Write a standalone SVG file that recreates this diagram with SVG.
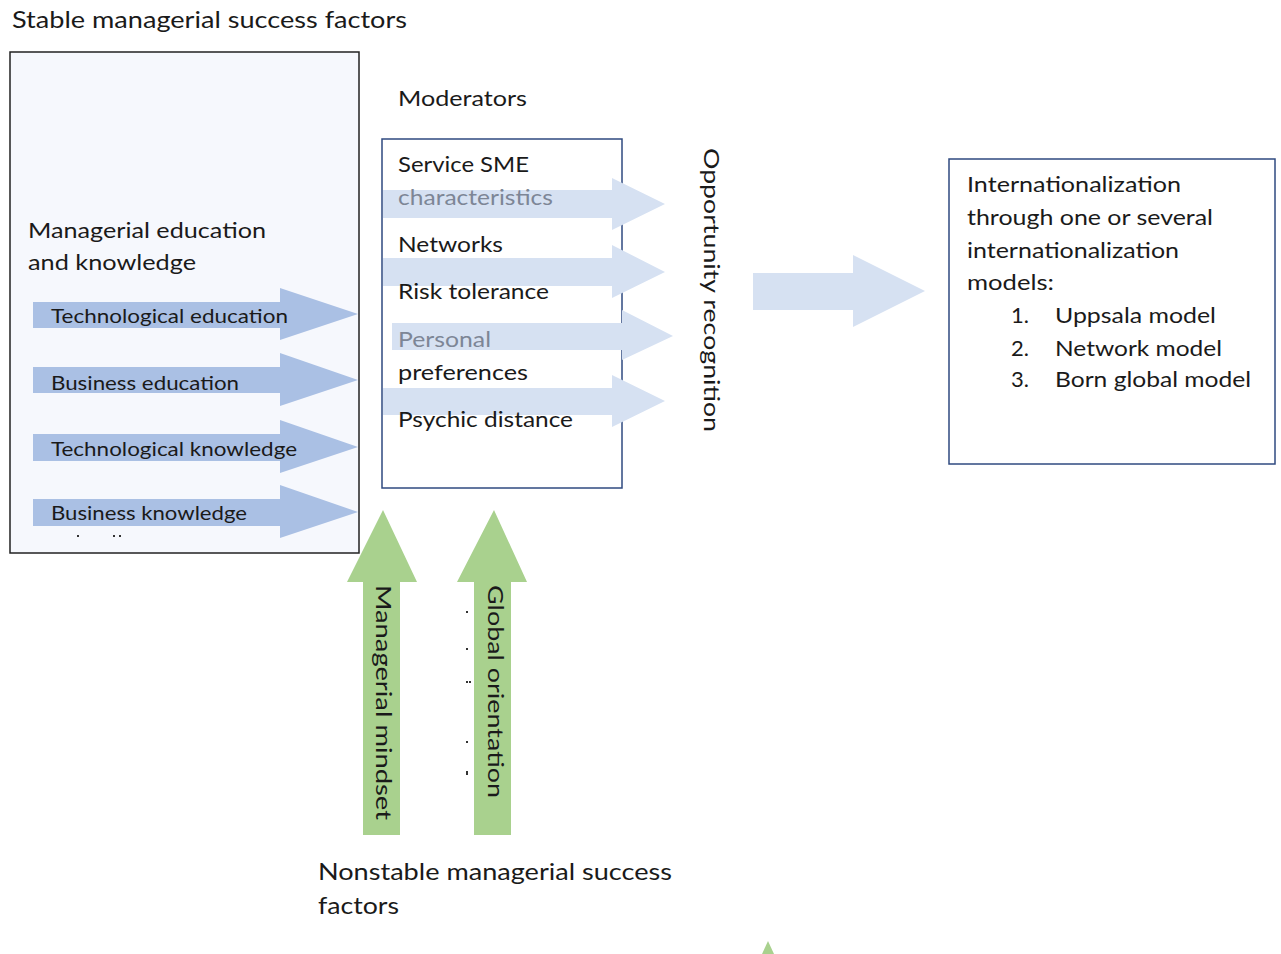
<svg xmlns="http://www.w3.org/2000/svg" width="1281" height="954" viewBox="0 0 1281 954">
  <style>
    text { font-family: Lato, "Liberation Sans", sans-serif; fill: #1a1a1a; }
    .t24 { font-size: 23px; }
    .t22 { font-size: 22px; }
    .t20 { font-size: 20px; }
    .dim { fill: #7d8696; }
    .box-dark { fill: #f6f8fd; stroke: #222; stroke-width: 1.5; }
    .box-blue { fill: #ffffff; stroke: #2f4a80; stroke-width: 1.5; }
    .arrow-mid { fill: #aac0e4; }
    .arrow-light { fill: #d6e1f2; }
    .arrow-green { fill: #a9d18e; }
    .mark { fill: #333; }
  </style>

  <!-- Stable success factors -->
  <g id="stable-factors">
    <text class="t24" x="12" y="28" textLength="395" lengthAdjust="spacingAndGlyphs">Stable managerial success factors</text>
    <rect class="box-dark" x="10" y="52" width="349" height="501"/>
    <text class="t22" x="28" y="238" textLength="238" lengthAdjust="spacingAndGlyphs">Managerial education</text>
    <text class="t22" x="28" y="270" textLength="168" lengthAdjust="spacingAndGlyphs">and knowledge</text>
  </g>

  <!-- Education / knowledge arrows -->
  <g id="education-arrows">
    <polygon class="arrow-mid" points="33,302 280,302 280,288 358,314 280,340 280,328 33,328"/>
    <polygon class="arrow-mid" points="33,367 280,367 280,353 358,380 280,406 280,393 33,393"/>
    <polygon class="arrow-mid" points="33,434 280,434 280,420 358,447 280,473 280,461 33,461"/>
    <polygon class="arrow-mid" points="33,499 280,499 280,485 358,512 280,538 280,526 33,526"/>
    <text class="t20" x="51" y="323" textLength="237" lengthAdjust="spacingAndGlyphs">Technological education</text>
    <text class="t20" x="51" y="390" textLength="188" lengthAdjust="spacingAndGlyphs">Business education</text>
    <text class="t20" x="51" y="456" textLength="246" lengthAdjust="spacingAndGlyphs">Technological knowledge</text>
    <text class="t20" x="51" y="520" textLength="196" lengthAdjust="spacingAndGlyphs">Business knowledge</text>
    <rect class="mark" x="77" y="535" width="2" height="2"/>
    <rect class="mark" x="113" y="535" width="2" height="2"/>
    <rect class="mark" x="119" y="535" width="2" height="2"/>
  </g>

  <!-- Moderators -->
  <g id="moderators">
    <text class="t22" x="398" y="106" textLength="129" lengthAdjust="spacingAndGlyphs">Moderators</text>
    <rect class="box-blue" x="382" y="139" width="240" height="349"/>
  </g>

  <!-- Moderator arrows -->
  <g id="moderator-arrows">
    <polygon class="arrow-light" points="383,190 612,190 612,178 665,204 612,230 612,218 383,218"/>
    <polygon class="arrow-light" points="383,258 612,258 612,245 665,272 612,298 612,286 383,286"/>
    <polygon class="arrow-light" points="392,323 622,323 622,310 673,336 622,360 622,350 392,350"/>
    <polygon class="arrow-light" points="383,388 612,388 612,375 665,401 612,427 612,415 383,415"/>
  </g>

  <g id="moderator-labels">
    <text class="t22" x="398" y="172" textLength="131" lengthAdjust="spacingAndGlyphs">Service SME</text>
    <text class="t22 dim" x="398" y="205" textLength="155" lengthAdjust="spacingAndGlyphs">characteristics</text>
    <text class="t22" x="398" y="252" textLength="105" lengthAdjust="spacingAndGlyphs">Networks</text>
    <text class="t22" x="398" y="299" textLength="151" lengthAdjust="spacingAndGlyphs">Risk tolerance</text>
    <text class="t22 dim" x="398" y="347" textLength="93" lengthAdjust="spacingAndGlyphs">Personal</text>
    <text class="t22" x="398" y="380" textLength="130" lengthAdjust="spacingAndGlyphs">preferences</text>
    <text class="t22" x="398" y="427" textLength="175" lengthAdjust="spacingAndGlyphs">Psychic distance</text>
  </g>

  <!-- Opportunity recognition -->
  <g id="opportunity">
    <text class="t22" transform="translate(704,148) rotate(90)" x="0" y="0" textLength="284" lengthAdjust="spacingAndGlyphs">Opportunity recognition</text>
  </g>

  <g id="connectors">
    <polygon class="arrow-light" points="753,273 853,273 853,255 925,291 853,327 853,310 753,310"/>
    <polygon class="arrow-green" points="383,510 417,582 400,582 400,835 363,835 363,582 347,582"/>
    <polygon class="arrow-green" points="494,510 527,582 511,582 511,835 474,835 474,582 457,582"/>
    <polygon class="arrow-green" points="768,941 774,954 762,954"/>
  </g>

  <!-- Internationalization outcome -->
  <g id="internationalization">
    <rect class="box-blue" x="949" y="159" width="326" height="305"/>
    <text class="t22" x="967" y="192" textLength="214" lengthAdjust="spacingAndGlyphs">Internationalization</text>
    <text class="t22" x="967" y="225" textLength="246" lengthAdjust="spacingAndGlyphs">through one or several</text>
    <text class="t22" x="967" y="258" textLength="212" lengthAdjust="spacingAndGlyphs">internationalization</text>
    <text class="t22" x="967" y="290" textLength="87" lengthAdjust="spacingAndGlyphs">models:</text>
    <text class="t22" x="1011" y="323">1.</text>
    <text class="t22" x="1055" y="323" textLength="161" lengthAdjust="spacingAndGlyphs">Uppsala model</text>
    <text class="t22" x="1011" y="356">2.</text>
    <text class="t22" x="1055" y="356" textLength="167" lengthAdjust="spacingAndGlyphs">Network model</text>
    <text class="t22" x="1011" y="387">3.</text>
    <text class="t22" x="1055" y="387" textLength="196" lengthAdjust="spacingAndGlyphs">Born global model</text>
  </g>

  <!-- Nonstable success factors -->
  <g id="nonstable-factors">
    <text class="t22" transform="translate(376,585) rotate(90)" x="0" y="0" textLength="235" lengthAdjust="spacingAndGlyphs">Managerial mindset</text>
    <text class="t22" transform="translate(488,585) rotate(90)" x="0" y="0" textLength="213" lengthAdjust="spacingAndGlyphs">Global orientation</text>
    <rect class="mark" x="466" y="611" width="2" height="2"/>
    <rect class="mark" x="466" y="648" width="2" height="2"/>
    <rect class="mark" x="466" y="681" width="2" height="2"/>
    <rect class="mark" x="469" y="681" width="2" height="2"/>
    <rect class="mark" x="466" y="741" width="2" height="2"/>
    <rect class="mark" x="466" y="771" width="2" height="4"/>
    <text class="t24" x="318" y="880" textLength="354" lengthAdjust="spacingAndGlyphs">Nonstable managerial success</text>
    <text class="t24" x="318" y="914" textLength="81" lengthAdjust="spacingAndGlyphs">factors</text>
  </g>
</svg>
